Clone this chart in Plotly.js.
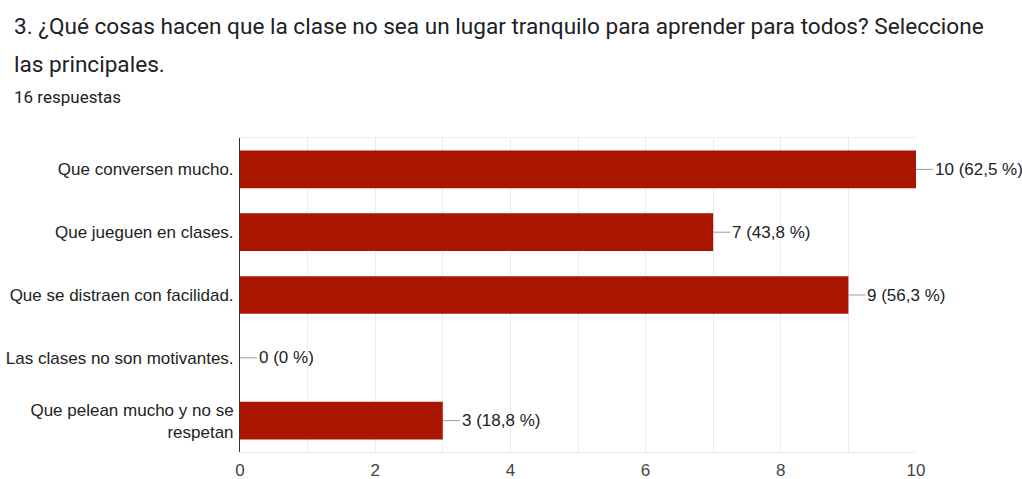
<!DOCTYPE html>
<html>
<head>
<meta charset="utf-8">
<script src="https://cdn.plot.ly/plotly-3.0.1.min.js"></script>
<style>
  html, body { margin: 0; padding: 0; background: #fff; }
  #chart { width: 1022px; height: 479px; }
</style>
</head>
<body>
<div id="chart"></div>
<script>
const categories = [
    'Que conversen mucho.',
    'Que jueguen en clases.',
    'Que se distraen con facilidad.',
    'Las clases no son motivantes.',
    'Que pelean mucho y no se<br>respetan'
];
const counts = [10, 7, 9, 0, 3];
const percents = ['62,5', '43,8', '56,3', '0', '18,8'];
const tickValues = [0, 1, 2, 3, 4, 5, 6, 7, 8, 9, 10];
const tickLabels = ['0', '', '2', '', '4', '', '6', '', '8', '', '10'];

const titleLine1 = '3. ¿Qué cosas hacen que la clase no sea un lugar tranquilo para aprender para todos? Seleccione';
const titleLine2 = 'las principales.';
const subtitle = '16 respuestas';

// plot box in pixels, used to place the header text in paper coords
const W = 1022, H = 479;
const margin = {l: 240, r: 106, t: 138, b: 27};
const plotW = W - margin.l - margin.r;
const plotH = H - margin.t - margin.b;
const px = x => (x - margin.l) / plotW;
const py = y => (H - margin.b - y) / plotH;

const headFont = 'Roboto, Arial, sans-serif';
const chartFont = 'Arial, "Liberation Sans", sans-serif';

const trace = {
    type: 'bar',
    orientation: 'h',
    x: counts,
    y: categories,
    width: 0.6,
    marker: {color: '#aa1500', line: {width: 0}},
    hoverinfo: 'none'
};

const labelAnnotations = counts.map((c, i) => ({
    x: c,
    y: categories[i],
    xref: 'x',
    yref: 'y',
    text: c + ' (' + percents[i] + ' %)',
    showarrow: true,
    arrowhead: 0,
    arrowwidth: 1,
    arrowcolor: '#9e9e9e',
    ax: 17,
    ay: 0,
    xanchor: 'left',
    font: {family: chartFont, size: 17, color: '#222'}
}));

const headerAnnotations = [
    {text: titleLine1, x: px(12), y: py(27), size: 22.6},
    {text: titleLine2, x: px(12), y: py(64), size: 22.6},
    {text: subtitle, x: px(12), y: py(97), size: 17}
].map(a => ({
    text: a.text,
    x: a.x,
    y: a.y,
    xref: 'paper',
    yref: 'paper',
    xanchor: 'left',
    yanchor: 'middle',
    showarrow: false,
    font: {family: headFont, size: a.size, color: '#202124'}
}));

const layout = {
    width: W,
    height: H,
    margin: margin,
    paper_bgcolor: '#fff',
    plot_bgcolor: '#fff',
    showlegend: false,
    font: {family: chartFont, size: 17, color: '#222'},
    xaxis: {
        range: [0, 10],
        tickvals: tickValues,
        ticktext: tickLabels,
        showgrid: true,
        gridcolor: '#ebebeb',
        gridwidth: 1,
        zeroline: false,
        showline: true,
        linecolor: '#ebebeb',
        mirror: true,
        ticks: '',
        ticklabelstandoff: 3,
        tickfont: {family: chartFont, size: 17, color: '#444'},
        fixedrange: true
    },
    yaxis: {
        autorange: 'reversed',
        showgrid: false,
        zeroline: false,
        showline: true,
        linecolor: '#333',
        linewidth: 1,
        ticks: '',
        ticklabelstandoff: 2,
        tickfont: {family: chartFont, size: 17, color: '#222'},
        fixedrange: true
    },
    annotations: headerAnnotations.concat(labelAnnotations)
};

Plotly.newPlot('chart', [trace], layout, {displayModeBar: false, staticPlot: true}).catch(error => {
    console.error('Error in plot:', error);
});
</script>
</body>
</html>
